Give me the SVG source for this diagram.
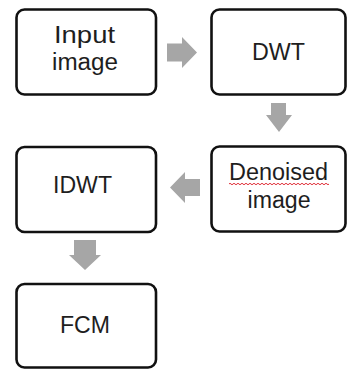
<svg xmlns="http://www.w3.org/2000/svg" width="347" height="369" viewBox="0 0 347 369">
<style>
.box{fill:#fff;stroke:#111;stroke-width:2.6}
.lbl{font-family:"Liberation Sans",Arial,sans-serif;font-size:23px;fill:#1e1e1e;text-anchor:middle}
.arr{fill:#a6a6a6}
</style>
<rect width="347" height="369" fill="#fff"/>
<g id="connectors">
<polygon class="arr" points="167,43.5 182,43.5 182,37 197,52.5 182,68 182,61.5 167,61.5"/>
<polygon class="arr" points="271,103 286,103 286,115 292,115 279,132 266,115 271,115"/>
<polygon class="arr" points="200,179 185,179 185,172 170,187.5 185,203 185,196 200,196"/>
<polygon class="arr" points="74,240 96,240 96,255 101,255 85,270 69,255 74,255"/>
</g>
<g id="input">
<rect class="box" x="16.5" y="9.5" width="139.5" height="85" rx="8"/>
<text class="lbl" x="84.5" y="42.5" textLength="61" lengthAdjust="spacingAndGlyphs">Input</text>
<text class="lbl" x="85" y="70" textLength="66" lengthAdjust="spacingAndGlyphs">image</text>
</g>
<g id="dwt">
<rect class="box" x="211.5" y="9.5" width="134" height="85" rx="8"/>
<text class="lbl" x="278.5" y="60" textLength="53" lengthAdjust="spacingAndGlyphs">DWT</text>
</g>
<g id="denoised">
<rect class="box" x="211.5" y="146.5" width="134" height="85" rx="8"/>
<text class="lbl" x="278.5" y="180" textLength="99" lengthAdjust="spacingAndGlyphs">Denoised</text>
<path d="M229,184 q1,-1.5 2,0 t2,0 t2,0 t2,0 t2,0 t2,0 t2,0 t2,0 t2,0 t2,0 t2,0 t2,0 t2,0 t2,0 t2,0 t2,0 t2,0 t2,0 t2,0 t2,0 t2,0 t2,0 t2,0 t2,0 t2,0 t2,0 t2,0 t2,0 t2,0 t2,0 t2,0 t2,0 t2,0 t2,0 t2,0 t2,0 t2,0 t2,0 t2,0 t2,0 t2,0 t2,0 t2,0 t2,0 t2,0 t2,0 t2,0 t2,0 t2,0 t2,0" fill="none" stroke="#e0303a" stroke-width="1"/>
<text class="lbl" x="279" y="207.5" textLength="63" lengthAdjust="spacingAndGlyphs">image</text>
</g>
<g id="idwt">
<rect class="box" x="16.5" y="147" width="139.5" height="85" rx="8"/>
<text class="lbl" x="82.5" y="193" textLength="59" lengthAdjust="spacingAndGlyphs">IDWT</text>
</g>
<g id="fcm">
<rect class="box" x="16.5" y="284" width="139.5" height="83.5" rx="8"/>
<text class="lbl" x="85" y="333" textLength="50" lengthAdjust="spacingAndGlyphs">FCM</text>
</g>
</svg>
